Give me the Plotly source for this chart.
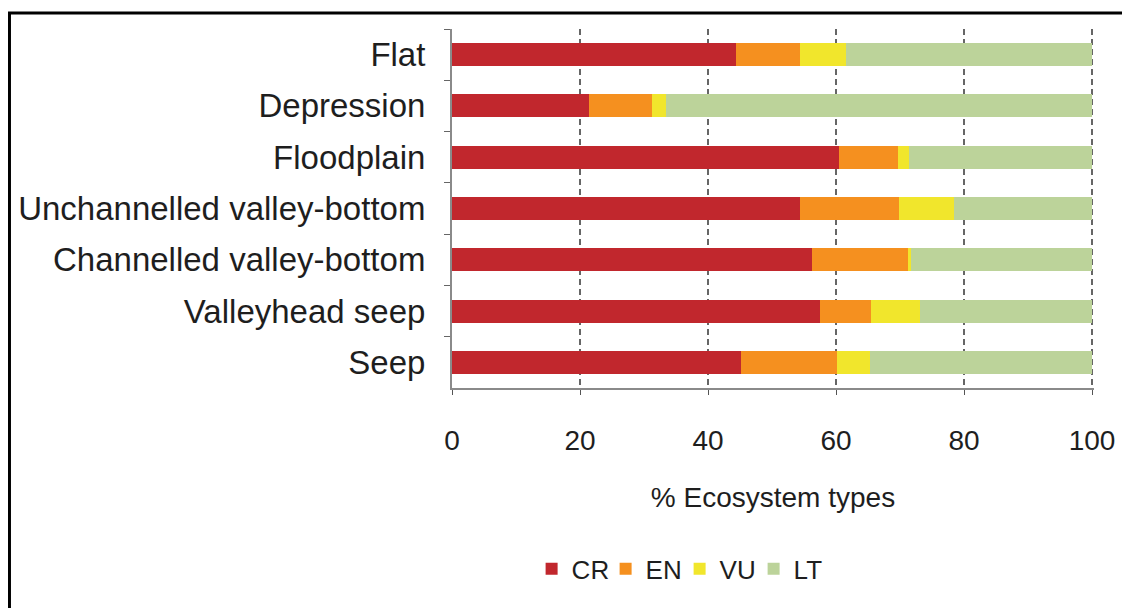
import plotly.graph_objects as go

categories = ["Flat", "Depression", "Floodplain", "Unchannelled valley-bottom",
              "Channelled valley-bottom", "Valleyhead seep", "Seep"]
CR = [44.3, 21.4, 60.5, 54.4, 56.3, 57.5, 45.1]
EN = [10.0, 9.8, 9.2, 15.5, 15.0, 7.9, 15.1]
VU = [7.3, 2.2, 1.7, 8.6, 0.4, 7.7, 5.1]
LT = [38.4, 66.6, 28.6, 21.5, 28.3, 26.9, 34.7]
series_names = ["CR", "EN", "VU", "LT"]
series_colors = ["#c1272d", "#f5901f", "#f1e62c", "#bcd39a"]
x_ticks = [0, 20, 40, 60, 80, 100]

FONT = "Liberation Sans, Arial, sans-serif"
TXT = "#1e1e1e"

fig = go.Figure()
for name, vals, col in zip(series_names, [CR, EN, VU, LT], series_colors):
    fig.add_trace(go.Bar(y=categories, x=vals, name=name, orientation="h",
                         marker=dict(color=col, line=dict(width=0))))

fig.update_layout(
    barmode="stack",
    bargap=0.55,
    width=1130, height=608,
    margin=dict(l=444, r=44, t=21, b=228),
    paper_bgcolor="white", plot_bgcolor="white",
    font=dict(family=FONT, color=TXT),
    legend=dict(orientation="h", x=0.124, xanchor="left", y=-0.504, yanchor="middle",
                font=dict(size=26, color=TXT), itemwidth=30, entrywidth=29,
                traceorder="normal", bgcolor="rgba(0,0,0,0)"),
    xaxis=dict(range=[0, 100.3], tickvals=x_ticks, showgrid=True, gridcolor="#666666",
               griddash="6px,4px", gridwidth=1.5, showline=True, linecolor="#8a8a8a",
               linewidth=2, ticks="outside", ticklen=5, tickcolor="#555555",
               tickfont=dict(size=28, color=TXT), ticklabelstandoff=21,
               zeroline=False, automargin=False,
               title=dict(text="% Ecosystem types", font=dict(size=28, color=TXT),
                          standoff=33)),
    yaxis=dict(categoryorder="array", categoryarray=categories, autorange="reversed",
               showline=True, linecolor="#8a8a8a", linewidth=2, ticks="outside",
               tickson="boundaries", ticklen=6, tickcolor="#666666",
               tickfont=dict(size=33, color=TXT), ticklabelstandoff=18,
               showgrid=False, automargin=False),
    shapes=[dict(type="rect", xref="paper", yref="paper", x0=-0.6893, x1=1.2,
                 y0=-1.0, y1=1.0446, line=dict(color="black", width=3),
                 fillcolor="rgba(0,0,0,0)", layer="above")],
)

fig.write_html("out.html")
